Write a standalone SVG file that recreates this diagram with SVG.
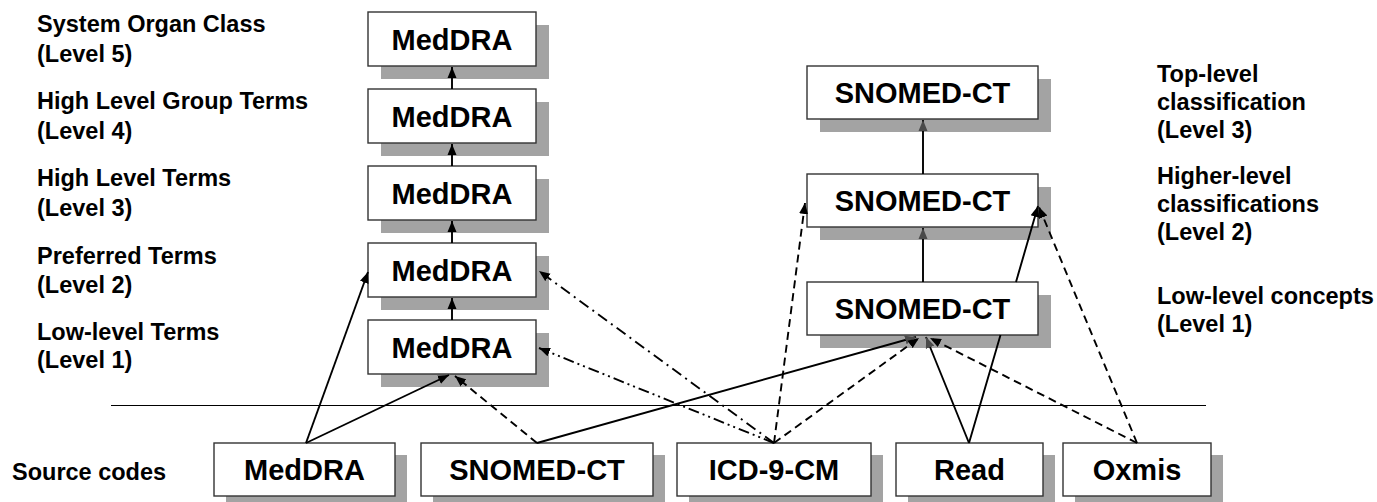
<svg xmlns="http://www.w3.org/2000/svg" width="1377" height="502" viewBox="0 0 1377 502">
  <style>
    .lbl { font-family: "Liberation Sans", Arial, sans-serif; font-weight: bold; font-size: 23.5px; fill: #000; }
    .box { fill: #fff; stroke: #333; stroke-width: 1.4; }
    .shd { fill: #a3a3a3; }
    .txt { font-family: "Liberation Sans", Arial, sans-serif; font-weight: bold; font-size: 29px; fill: #000; text-anchor: middle; }
    .ln { fill: none; stroke: #000; stroke-width: 1.9; }
    .solid { marker-end: url(#ah); }
    .dash { stroke-dasharray: 8 5; marker-end: url(#ah); }
    .dd { stroke-dasharray: 11 5 2 5; marker-end: url(#ah); }
    .ddd { stroke-dasharray: 11 4 2 4 2 4; marker-end: url(#ah); }
    .up { marker-end: url(#ahg); }
  </style>
  <defs>
    <marker id="ah" markerUnits="userSpaceOnUse" markerWidth="12" markerHeight="10" refX="11" refY="5" orient="auto">
      <path d="M0,0.5 L11,5 L0,9.5 Z" fill="#000"/>
    </marker>
    <marker id="ahg" markerUnits="userSpaceOnUse" markerWidth="12" markerHeight="10" refX="11" refY="5" orient="auto">
      <path d="M0,0.5 L11,5 L0,9.5 Z" fill="#4a4a4a"/>
    </marker>
  </defs>

  <!-- level captions, left -->
  <g id="labels-left">
    <text class="lbl" x="37" y="32">System Organ Class</text>
    <text class="lbl" x="37" y="62">(Level 5)</text>
    <text class="lbl" x="37" y="109">High Level Group Terms</text>
    <text class="lbl" x="37" y="139">(Level 4)</text>
    <text class="lbl" x="37" y="186">High Level Terms</text>
    <text class="lbl" x="37" y="216">(Level 3)</text>
    <text class="lbl" x="37" y="264">Preferred Terms</text>
    <text class="lbl" x="37" y="293">(Level 2)</text>
    <text class="lbl" x="37" y="340">Low-level Terms</text>
    <text class="lbl" x="37" y="368">(Level 1)</text>
    <text class="lbl" x="12" y="480">Source codes</text>
  </g>

  <!-- level captions, right -->
  <g id="labels-right">
    <text class="lbl" x="1157" y="82">Top-level</text>
    <text class="lbl" x="1157" y="110">classification</text>
    <text class="lbl" x="1157" y="138">(Level 3)</text>
    <text class="lbl" x="1157" y="184">Higher-level</text>
    <text class="lbl" x="1157" y="212">classifications</text>
    <text class="lbl" x="1157" y="240">(Level 2)</text>
    <text class="lbl" x="1157" y="304">Low-level concepts</text>
    <text class="lbl" x="1157" y="332">(Level 1)</text>
  </g>

  <!-- separator between hierarchy and source codes -->
  <line x1="111" y1="405.5" x2="1206" y2="405.5" stroke="#000" stroke-width="1"/>

  <!-- MedDRA hierarchy -->
  <g id="meddra-l5">
    <rect class="shd" x="381" y="25" width="168" height="54"/>
    <rect class="box" x="368" y="12" width="168" height="54"/>
    <text class="txt" x="452" y="50">MedDRA</text>
  </g>
  <g id="meddra-l4">
    <rect class="shd" x="381" y="102" width="168" height="54"/>
    <rect class="box" x="368" y="89" width="168" height="54"/>
    <text class="txt" x="452" y="127">MedDRA</text>
  </g>
  <g id="meddra-l3">
    <rect class="shd" x="381" y="179" width="168" height="54"/>
    <rect class="box" x="368" y="166" width="168" height="54"/>
    <text class="txt" x="452" y="204">MedDRA</text>
  </g>
  <g id="meddra-l2">
    <rect class="shd" x="381" y="256" width="168" height="54"/>
    <rect class="box" x="368" y="243" width="168" height="54"/>
    <text class="txt" x="452" y="281">MedDRA</text>
  </g>
  <g id="meddra-l1">
    <rect class="shd" x="381" y="333" width="168" height="54"/>
    <rect class="box" x="368" y="320" width="168" height="54"/>
    <text class="txt" x="452" y="358">MedDRA</text>
  </g>

  <!-- SNOMED-CT hierarchy -->
  <g id="snomed-l3">
    <rect class="shd" x="820" y="79" width="231" height="53"/>
    <rect class="box" x="807" y="66" width="231" height="53"/>
    <text class="txt" x="922.5" y="103">SNOMED-CT</text>
  </g>
  <g id="snomed-l2">
    <rect class="shd" x="820" y="187" width="231" height="53"/>
    <rect class="box" x="807" y="174" width="231" height="53"/>
    <text class="txt" x="922.5" y="211">SNOMED-CT</text>
  </g>
  <g id="snomed-l1">
    <rect class="shd" x="820" y="295" width="231" height="53"/>
    <rect class="box" x="807" y="282" width="231" height="53"/>
    <text class="txt" x="922.5" y="319">SNOMED-CT</text>
  </g>

  <!-- source code boxes -->
  <g id="src-meddra">
    <rect class="shd" x="226" y="455" width="181" height="53"/>
    <rect class="box" x="214" y="443" width="181" height="53"/>
    <text class="txt" x="304.5" y="480">MedDRA</text>
  </g>
  <g id="src-snomed">
    <rect class="shd" x="433" y="455" width="232" height="53"/>
    <rect class="box" x="421" y="443" width="232" height="53"/>
    <text class="txt" x="537" y="480">SNOMED-CT</text>
  </g>
  <g id="src-icd9">
    <rect class="shd" x="689" y="455" width="194" height="53"/>
    <rect class="box" x="677" y="443" width="194" height="53"/>
    <text class="txt" x="774" y="480">ICD-9-CM</text>
  </g>
  <g id="src-read">
    <rect class="shd" x="908" y="455" width="147" height="53"/>
    <rect class="box" x="896" y="443" width="147" height="53"/>
    <text class="txt" x="969.5" y="480">Read</text>
  </g>
  <g id="src-oxmis">
    <rect class="shd" x="1075" y="455" width="148" height="53"/>
    <rect class="box" x="1063" y="443" width="148" height="53"/>
    <text class="txt" x="1137" y="480">Oxmis</text>
  </g>

  <!-- connectors -->
  <g id="connectors">
    <!-- MedDRA hierarchy links -->
    <path class="ln solid" d="M452,89 L452,67"/>
    <path class="ln solid" d="M452,166 L452,144"/>
    <path class="ln solid" d="M452,243 L452,221"/>
    <path class="ln solid" d="M452,320 L452,298"/>
    <!-- SNOMED-CT hierarchy links -->
    <path class="ln up" d="M923,282 L923,228"/>
    <path class="ln up" d="M923,174 L923,120"/>
    <!-- from source MedDRA -->
    <path class="ln solid" d="M306,443 L368,272"/>
    <path class="ln solid" d="M306,443 L449,375"/>
    <!-- from source SNOMED-CT -->
    <path class="ln dash" d="M537,443 L455,376"/>
    <path class="ln up" d="M537,443 L916,337"/>
    <!-- from ICD-9-CM -->
    <path class="ln dd" d="M774,443 L539,271"/>
    <path class="ln ddd" d="M774,443 L539,348"/>
    <path class="ln dash" d="M774,443 L805,203"/>
    <path class="ln dash" d="M774,443 L919,338"/>
    <!-- from Read -->
    <path class="ln up" d="M969,443 L926,337"/>
    <path class="ln solid" d="M969,443 L1000.5,335 M1016,282 L1038,206"/>
    <!-- from Oxmis -->
    <path class="ln dash" d="M1137,443 L930,338"/>
    <path class="ln dash" d="M1137,443 L1039,207"/>
  </g>
</svg>
